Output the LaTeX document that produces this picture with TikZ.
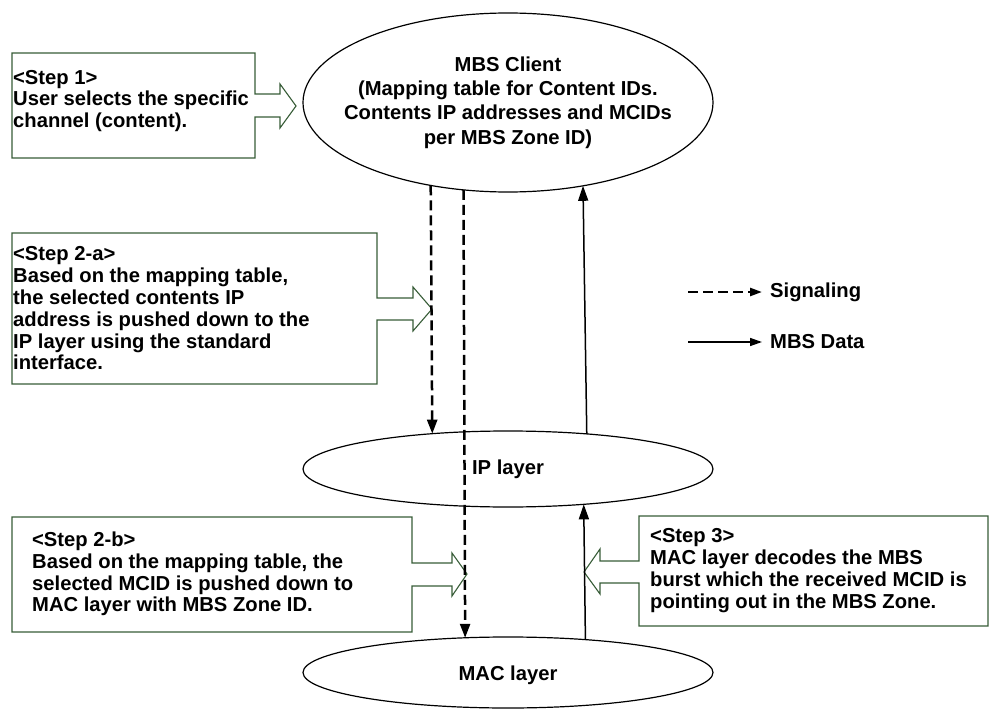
\documentclass[tikz,border=0pt]{standalone}
\usepackage{fontspec}
\setmainfont{Liberation Sans}
\usetikzlibrary{shapes.geometric,arrows.meta}
\definecolor{calloutgreen}{RGB}{56,93,56}
\begin{document}
\begin{tikzpicture}[x=1pt,y=-1pt,
  layer/.style={draw=black, line width=1.2pt, ellipse, minimum width=410pt, inner sep=0pt, outer sep=0pt},
  layertext/.style={inner sep=0pt, align=center, font=\fontsize{20.2}{24.4}\selectfont\bfseries},
  callout/.style={draw=calloutgreen, line width=1.1pt, line join=miter},
  steptext/.style={anchor=west, inner sep=0pt, align=left, font=\fontsize{20.2}{21.8}\selectfont\bfseries},
  signal/.style={line width=2.5pt, dash pattern=on 10pt off 5pt, -{Triangle[length=14pt,width=10pt]}},
  data/.style={line width=1.5pt, -{Triangle[length=15pt,width=10pt]}},
  lgsignal/.style={line width=2.5pt, dash pattern=on 10pt off 5pt, -{Triangle[length=12pt,width=8pt]}, shorten >=8pt},
  lgdata/.style={line width=1.5pt, -{Triangle[length=12pt,width=8pt]}, shorten >=8pt},
  lgtext/.style={anchor=west, inner sep=0pt, font=\fontsize{20.2}{24}\selectfont\bfseries}
]
\useasboundingbox (0,0) rectangle (989,709);
\fill[white] (0,0) rectangle (989,709);

% layers
\node[layer, minimum height=179pt] (mbs) at (508,102.5) {};
\node[layertext] (mbstext) at (mbs.center) {MBS Client\\(Mapping table for Content IDs.\\Contents IP addresses and MCIDs\\per MBS Zone ID)};
\node[layer, minimum height=76pt] (ip) at (508,469) {};
\node[layertext] (iptext) at (ip.center) {IP layer};
\node[layer, minimum height=71pt] (mac) at (508,672.5) {};
\node[layertext] (mactext) at ([yshift=-2.5pt]mac.center) {MAC layer};

% callouts
\draw[callout] (12,53) -- (255,53) -- (255,94) -- (280,94) -- (280,84) -- (296,106) -- (280,128) -- (280,117) -- (255,117) -- (255,158) -- (12,158) -- cycle;
\node[steptext] (s1) at (13,101) {<Step 1>\\User selects the specific\\channel (content).};

\draw[callout] (12,233) -- (377,233) -- (377,298) -- (413,298) -- (413,287) -- (432,309) -- (413,331) -- (413,320) -- (377,320) -- (377,384) -- (12,384) -- cycle;
\node[steptext] (s2a) at (13,308.5) {<Step 2-a>\\Based on the mapping table,\\the selected contents IP\\address is pushed down to the\\IP layer using the standard\\interface.};

\draw[callout] (12,517) -- (412,517) -- (412,563) -- (452,563) -- (452,553) -- (467,574) -- (452,596) -- (452,586) -- (412,586) -- (412,632) -- (12,632) -- cycle;
\node[steptext] (s2b) at (32,574) {<Step 2-b>\\Based on the mapping table, the\\selected MCID is pushed down to\\MAC layer with MBS Zone ID.};

\draw[callout] (988,516) -- (639,516) -- (639,561) -- (600,561) -- (600,549) -- (584,572) -- (600,594) -- (600,583) -- (639,583) -- (639,626) -- (988,626) -- cycle;
\node[steptext] (s3) at (650,570.5) {<Step 3>\\MAC layer decodes the MBS\\burst which the received MCID is\\pointing out in the MBS Zone.};

% connectors
\draw[signal] (mbs.227.57) -- (ip.155.09);
\draw[signal] (mbs.243.83) -- (mac.141.09);
\draw[data] (ip.24.91) -- (mbs.312.43);
\draw[data] (mac.23.45) -- (ip.335.09);

% legend
\node[lgtext] (sig) at (770,292) {Signaling};
\coordinate (sigA) at (688,292);
\draw[lgsignal] (sigA) -- (sig.west);
\node[lgtext] (dat) at (770,342) {MBS Data};
\coordinate (datA) at (688,342);
\draw[lgdata] (datA) -- (dat.west);
\end{tikzpicture}
\end{document}
